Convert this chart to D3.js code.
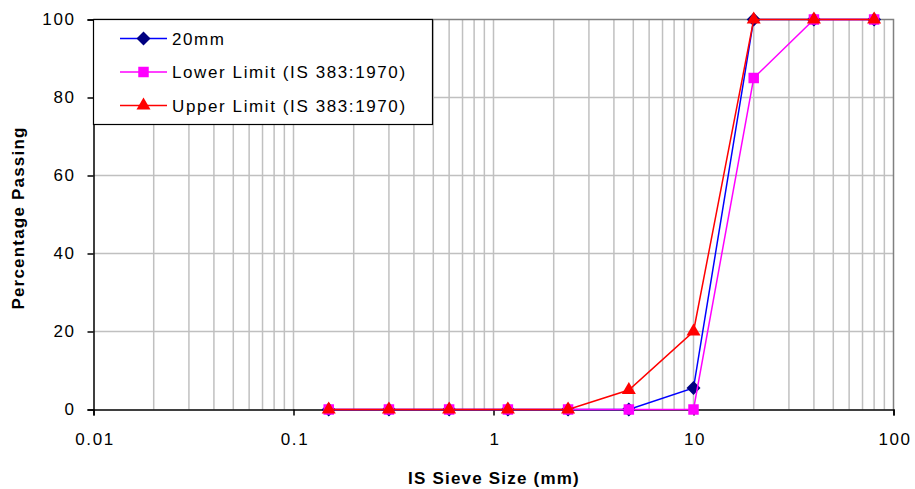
<!DOCTYPE html>
<html><head><meta charset="utf-8">
<script src="https://cdn.jsdelivr.net/npm/d3@7"></script>
<style>body{margin:0;background:#fff}svg{display:block;font-family:"Liberation Sans",Arial,sans-serif}text{letter-spacing:1.6px}</style>
</head><body>
<svg id="c" width="915" height="489"></svg>
<script>
const sieveSizes = [0.15, 0.3, 0.6, 1.18, 2.36, 4.75, 10, 20, 40, 80];
const passing20mm = [0, 0, 0, 0, 0, 0, 5.5, 100, 100, 100];
const lowerLimit = [0, 0, 0, 0, 0, 0, 0, 85, 100, 100];
const upperLimit = [0, 0, 0, 0, 0, 5, 20, 100, 100, 100];
const seriesNames = ["20mm", "Lower Limit (IS 383:1970)", "Upper Limit (IS 383:1970)"];
const xTicks = [0.01, 0.1, 1, 10, 100];
const yTicks = [0, 20, 40, 60, 80, 100];

const FS = 17;
const svg = d3.select("#c");
const L = 93.5, R = 893.5, T = 19.5, B = 409.5;
const x = d3.scaleLog().domain([0.01, 100]).range([L, R]);
const y = d3.scaleLinear().domain([0, 100]).range([B, T]);

// minor vertical gridlines
const minor = [];
for (let e = -2; e < 2; e++) for (let k = 2; k <= 9; k++) minor.push(k * Math.pow(10, e));
const grid = svg.append("g");
grid.selectAll(".vm").data(minor.concat([0.1, 1, 10])).enter().append("line")
  .attr("x1", d => x(d)).attr("x2", d => x(d)).attr("y1", T).attr("y2", B)
  .attr("stroke", "#c0c0c0").attr("stroke-width", 1.5);
grid.selectAll(".hm").data(yTicks.filter(v => v > 0 && v < 100)).enter().append("line")
  .attr("x1", L).attr("x2", R).attr("y1", d => y(d)).attr("y2", d => y(d))
  .attr("stroke", "#c0c0c0").attr("stroke-width", 1.5);
// top & right border
svg.append("path").attr("d", `M${L},${T}H${R}V${B}`).attr("fill", "none").attr("stroke", "#808080").attr("stroke-width", 1.5);

// axes
const xAxis = d3.axisBottom(x).tickValues(xTicks).tickFormat(d => String(d)).tickSize(6).tickPadding(17);
const gx = svg.append("g").attr("transform", `translate(0,${B})`).call(xAxis);
const yAxis = d3.axisLeft(y).tickValues(yTicks).tickFormat(d3.format("d")).tickSize(6).tickPadding(12);
const gy = svg.append("g").attr("transform", `translate(${L},0)`).call(yAxis);
[gx, gy].forEach(g => {
  g.select(".domain").attr("stroke", "#000").attr("stroke-width", 1.5);
  g.selectAll(".tick line").attr("stroke", "#000").attr("stroke-width", 1.5);
  g.selectAll("text").attr("font-size", FS).attr("fill", "#000").attr("font-family", "Liberation Sans, Arial, sans-serif");
});
gx.selectAll(".tick text").attr("dx", "1");

// titles
svg.append("text").attr("x", 494).attr("y", 484).attr("text-anchor", "middle")
  .attr("font-size", FS).attr("font-weight", "bold").style("letter-spacing", "1.2px").text("IS Sieve Size (mm)");
svg.append("text").attr("transform", `translate(24,${218}) rotate(-90)`).attr("text-anchor", "middle")
  .attr("font-size", FS).attr("font-weight", "bold").style("letter-spacing", "1.2px").text("Percentage Passing");

const diamondType = d3.symbolDiamond2 || d3.symbolDiamond;
const series = [
  {name: seriesNames[0], values: passing20mm, color: "#0000ff", fill: "#000080", shape: diamondType, size: 125},
  {name: seriesNames[1], values: lowerLimit, color: "#ff00ff", fill: "#ff00ff", shape: d3.symbolSquare, size: 110},
  {name: seriesNames[2], values: upperLimit, color: "#ff0000", fill: "#ff0000", shape: d3.symbolTriangle, size: 85}
];
const line = d3.line().x(d => x(d[0])).y(d => y(d[1]));
series.forEach(s => {
  const pts = sieveSizes.map((v, i) => [v, s.values[i]]);
  const g = svg.append("g");
  g.append("path").attr("d", line(pts)).attr("fill", "none").attr("stroke", s.color).attr("stroke-width", 1.5);
  g.selectAll("path.m").data(pts).enter().append("path").attr("class", "m")
    .attr("d", d3.symbol().type(s.shape).size(s.size))
    .attr("transform", d => `translate(${x(d[0])},${y(d[1])})`)
    .attr("fill", s.fill);
});

// legend
const lg = svg.append("g");
lg.append("rect").attr("x", 93.5).attr("y", 19.5).attr("width", 339).attr("height", 105)
  .attr("fill", "#fff").attr("stroke", "#000").attr("stroke-width", 1.2);
series.forEach((s, i) => {
  const cy = 38.5 + i * 33.5;
  lg.append("line").attr("x1", 120).attr("x2", 167).attr("y1", cy).attr("y2", cy).attr("stroke", s.color).attr("stroke-width", 1.5);
  lg.append("path").attr("d", d3.symbol().type(s.shape).size(s.size)).attr("transform", `translate(143.5,${cy})`).attr("fill", s.fill);
  lg.append("text").attr("x", 172).attr("y", cy + 6).attr("font-size", FS).text(s.name);
});
</script>
</body></html>
